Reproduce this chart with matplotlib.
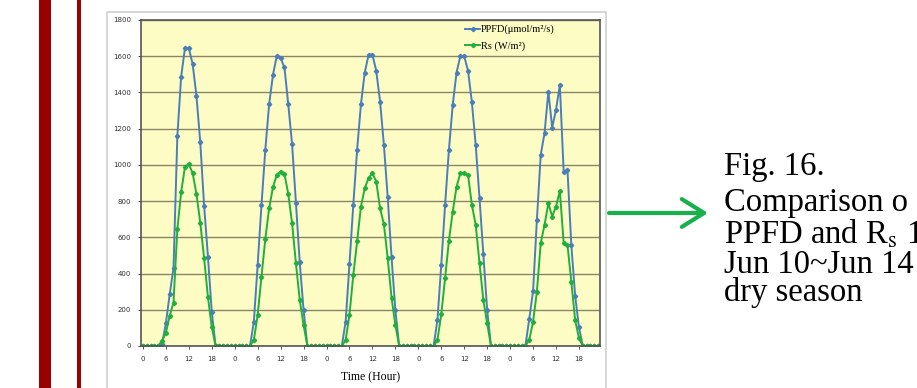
import matplotlib
matplotlib.use("Agg")
import matplotlib.pyplot as plt
from matplotlib.patches import Rectangle, FancyArrowPatch
import numpy as np

# hourly values, Jun 10 ~ Jun 14 (dry season)
ppfd_d1 = [0, 0, 0, 0, 0, 10, 125, 285, 430, 1157, 1488, 1645, 1645, 1557, 1381, 1124, 775, 494, 190, 0, 0, 0, 0, 0]
ppfd_d2 = [0, 0, 0, 0, 0, 134, 448, 779, 1083, 1335, 1497, 1602, 1590, 1538, 1335, 1114, 792, 462, 199, 0, 0, 0, 0, 0]
ppfd_d3 = [0, 0, 0, 0, 0, 134, 451, 779, 1083, 1335, 1510, 1608, 1608, 1520, 1350, 1111, 820, 490, 199, 0, 0, 0, 0, 0]
ppfd_d4 = [0, 0, 0, 0, 0, 144, 448, 779, 1083, 1332, 1510, 1602, 1599, 1520, 1347, 1111, 816, 507, 199, 0, 0, 0, 0, 0]
ppfd_d5 = [0, 0, 0, 0, 0, 149, 304, 696, 1055, 1175, 1405, 1206, 1304, 1442, 963, 972, 558, 278, 103, 0, 0, 0, 0, 0]

rs_d1 = [0, 0, 0, 0, 0, 30, 72, 167, 240, 645, 850, 990, 1005, 955, 840, 680, 485, 270, 105, 0, 0, 0, 0, 0]
rs_d2 = [0, 0, 0, 0, 0, 33, 171, 383, 591, 761, 877, 945, 963, 950, 840, 678, 457, 254, 116, 0, 0, 0, 0, 0]
rs_d3 = [0, 0, 0, 0, 0, 33, 171, 392, 577, 770, 871, 927, 954, 908, 761, 672, 484, 267, 116, 0, 0, 0, 0, 0]
rs_d4 = [0, 0, 0, 0, 0, 33, 175, 374, 582, 742, 880, 954, 954, 945, 779, 669, 457, 254, 125, 0, 0, 0, 0, 0]
rs_d5 = [0, 0, 0, 0, 0, 33, 134, 300, 567, 669, 788, 715, 770, 856, 571, 558, 355, 144, 42, 0, 0, 0, 0, 0]

ppfd = ppfd_d1 + ppfd_d2 + ppfd_d3 + ppfd_d4 + ppfd_d5
rs = rs_d1 + rs_d2 + rs_d3 + rs_d4 + rs_d5
hours = np.arange(len(ppfd))

x_tick_labels = ["0", "6", "12", "18"] * 5
y_ticks = [0, 200, 400, 600, 800, 1000, 1200, 1400, 1600, 1800]

caption = ["Fig. 16.", "Comparison o", r"PPFD and R$_\mathrm{s}$ 1", "Jun 10~Jun 14", "dry season"]

plt.rcParams["mathtext.fontset"] = "stix"

W, H = 917, 388
fig = plt.figure(figsize=(W / 100, H / 100), dpi=100)

# slide decorations (behind the axes)
fig.add_artist(Rectangle((39 / W, 0), 12 / W, 1, transform=fig.transFigure, color="#990000", lw=0, zorder=-2))
fig.add_artist(Rectangle((77 / W, 0), 4 / W, 1, transform=fig.transFigure, color="#990000", lw=0, zorder=-2))
fig.add_artist(Rectangle((107 / W, -0.02), (606 - 107) / W, 1.02 - 12 / H, transform=fig.transFigure,
                         facecolor="white", edgecolor="#d0d0d0", lw=1.2, zorder=-1))

ax = fig.add_axes([141 / W, 42 / H, 459 / W, 326 / H])
ax.set_zorder(2)
ax.set_facecolor("#fdfcc4")
ax.plot(hours, ppfd, color="#4a7ebb", lw=1.4, marker="D", ms=2.2, label="PPFD(μmol/m²/s)")
ax.plot(hours, rs, color="#1fb03c", lw=1.4, marker="D", ms=2.2, label="Rs (W/m²)")

ax.set_xlim(-0.5, len(ppfd) - 0.5)
ax.set_ylim(0, 1800)
ax.set_yticks(y_ticks)
ax.set_yticklabels([str(v) for v in y_ticks])
ax.set_xticks(hours[::6])
ax.set_xticklabels(x_tick_labels)
ax.grid(axis="y", color="#8a8468", lw=1.0)
ax.set_axisbelow(True)
ax.tick_params(labelsize=5, colors="#333333", length=2, width=0.6, pad=5)
for s in ax.spines.values():
    s.set_color("#555555")
    s.set_linewidth(1.2)

ax.set_xlabel("Time (Hour)", family="Liberation Serif", fontsize=8.5, labelpad=7)

leg = ax.legend(loc="upper left", bbox_to_anchor=(0.706, 0.985), frameon=False,
                prop={"family": "Liberation Serif", "size": 7.5}, handlelength=1.45,
                handletextpad=0.1, labelspacing=0.65, borderaxespad=0, borderpad=0)

# caption on the right
baselines = [175, 211, 244, 273, 301]
for line, yb in zip(caption, baselines):
    fig.text(724 / W, 1 - yb / H, line, family="Liberation Serif", fontsize=23.5, va="baseline", ha="left")

fig.add_artist(FancyArrowPatch(
    (609 / W, 1 - 213 / H), (708 / W, 1 - 213 / H), transform=fig.transFigure,
    arrowstyle="->,head_length=0.8,head_width=0.5", color="#18b04a", lw=3,
    mutation_scale=20, shrinkA=0, shrinkB=0))

fig.savefig("out.png", dpi=100)
